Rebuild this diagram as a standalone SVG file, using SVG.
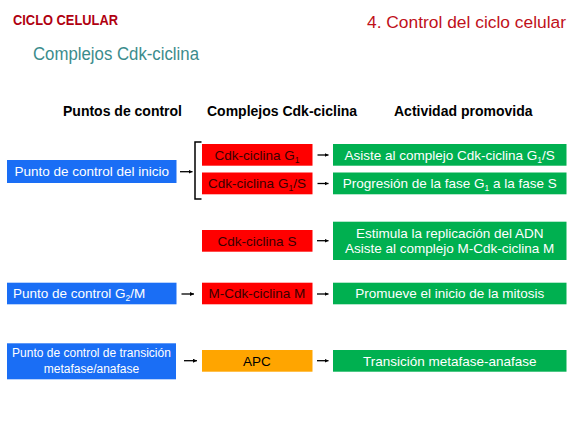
<svg xmlns="http://www.w3.org/2000/svg" width="576" height="432" viewBox="0 0 576 432">
<defs>
<style>
text{font-family:"Liberation Sans",Arial,sans-serif}
.box-b{fill:#1A6EF5}
.box-r{fill:#FF0000}
.box-g{fill:#00B050}
.box-o{fill:#FFA500}
.t{font-size:13.5px;text-anchor:middle}
.ts{font-size:12px;text-anchor:middle}
.tw{fill:#FFFFFF}
.tr{fill:#3A0000}
.tk{fill:#000000}
.hd{font-size:14px;font-weight:bold;fill:#000}
.conn line{stroke:#000;stroke-width:1.3;marker-end:url(#ah)}
</style>
<marker id="ah" viewBox="0 0 6 6" refX="6" refY="3" markerWidth="4" markerHeight="4" markerUnits="userSpaceOnUse" orient="auto">
<path d="M0,0 L6,3 L0,6 z" fill="#000"/>
</marker>
</defs>
<rect width="576" height="432" fill="#FFFFFF"/>
<g id="titles">
<text x="13" y="25" font-size="14" font-weight="bold" fill="#B00010" textLength="105" lengthAdjust="spacingAndGlyphs">CICLO CELULAR</text>
<text x="367" y="28.3" font-size="17.4" fill="#C0101A" textLength="199" lengthAdjust="spacingAndGlyphs">4. Control del ciclo celular</text>
<text x="33" y="60" font-size="17.5" fill="#3B8C8C" textLength="166" lengthAdjust="spacingAndGlyphs">Complejos Cdk-ciclina</text>
</g>
<g id="headers">
<text class="hd" x="63" y="115.7">Puntos de control</text>
<text class="hd" x="207" y="115.7">Complejos Cdk-ciclina</text>
<text class="hd" x="394" y="115.7">Actividad promovida</text>
</g>
<g id="connectors" class="conn">
<line x1="180" y1="171.7" x2="192.5" y2="171.7"/>
<path d="M201.5,142 H195 V199 H201.5" fill="none" stroke="#000" stroke-width="1.5"/>
<line x1="317.5" y1="155" x2="328.5" y2="155"/>
<line x1="317.5" y1="183.5" x2="328.5" y2="183.5"/>
<line x1="317" y1="240.7" x2="328.5" y2="240.7"/>
<line x1="181.5" y1="294" x2="194" y2="294"/>
<line x1="317" y1="294" x2="328.5" y2="294"/>
<line x1="184" y1="360.7" x2="197" y2="360.7"/>
<line x1="317" y1="360.7" x2="328.5" y2="360.7"/>
</g>
<g id="punto-inicio">
<rect class="box-b" x="7" y="160" width="169.5" height="23"/>
<text class="t tw" x="91.7" y="176.3">Punto de control del inicio</text>
</g>
<g id="cdk-g1">
<rect class="box-r" x="202" y="144" width="110.5" height="21.7"/>
<text class="t tr" x="257" y="159.7">Cdk-ciclina G<tspan font-size="8.5" dy="3">1</tspan></text>
</g>
<g id="cdk-g1s">
<rect class="box-r" x="202" y="172.5" width="110.5" height="21.8"/>
<text class="t tr" x="257" y="188.2">Cdk-ciclina G<tspan font-size="8.5" dy="3">1</tspan><tspan dy="-3">/S</tspan></text>
</g>
<g id="act-g1">
<rect class="box-g" x="333" y="144" width="233.5" height="21.7"/>
<text class="t tw" x="449.7" y="159.7">Asiste al complejo Cdk-ciclina G<tspan font-size="8.5" dy="3">1</tspan><tspan dy="-3">/S</tspan></text>
</g>
<g id="act-g1s">
<rect class="box-g" x="333" y="172.5" width="233.5" height="21.8"/>
<text class="t tw" x="449.7" y="188.2">Progresión de la fase G<tspan font-size="8.5" dy="3">1</tspan><tspan dy="-3"> a la fase S</tspan></text>
</g>
<g id="cdk-s">
<rect class="box-r" x="202" y="230" width="110.5" height="21.7"/>
<text class="t tr" x="257" y="245.7">Cdk-ciclina S</text>
</g>
<g id="act-s">
<rect class="box-g" x="333" y="221.7" width="233.5" height="38.3"/>
<text class="t tw" x="449.7" y="238">Estimula la replicación del ADN</text>
<text class="t tw" x="449.7" y="253.3">Asiste al complejo M-Cdk-ciclina M</text>
</g>
<g id="punto-g2m">
<rect class="box-b" x="7" y="282.7" width="169.5" height="21.6"/>
<text class="t tw" x="13" y="298.3" style="text-anchor:start">Punto de control G<tspan font-size="8.5" dy="3">2</tspan><tspan dy="-3">/M</tspan></text>
</g>
<g id="m-cdk">
<rect class="box-r" x="202" y="282.7" width="110.5" height="21.6"/>
<text class="t tr" x="257" y="298.3">M-Cdk-ciclina M</text>
</g>
<g id="act-m">
<rect class="box-g" x="333" y="282.7" width="233.5" height="21.6"/>
<text class="t tw" x="449.7" y="298.3">Promueve el inicio de la mitosis</text>
</g>
<g id="punto-transicion">
<rect class="box-b" x="7" y="343.3" width="169" height="36"/>
<text class="ts tw" x="91.5" y="357.3">Punto de control de transición</text>
<text class="ts tw" x="91.5" y="372.8">metafase/anafase</text>
</g>
<g id="apc">
<rect class="box-o" x="202" y="350" width="110.5" height="21.7"/>
<text class="t tk" x="257" y="365.7">APC</text>
</g>
<g id="act-apc">
<rect class="box-g" x="333" y="350" width="233.5" height="21.7"/>
<text class="t tw" x="449.7" y="365.7">Transición metafase-anafase</text>
</g>
</svg>
